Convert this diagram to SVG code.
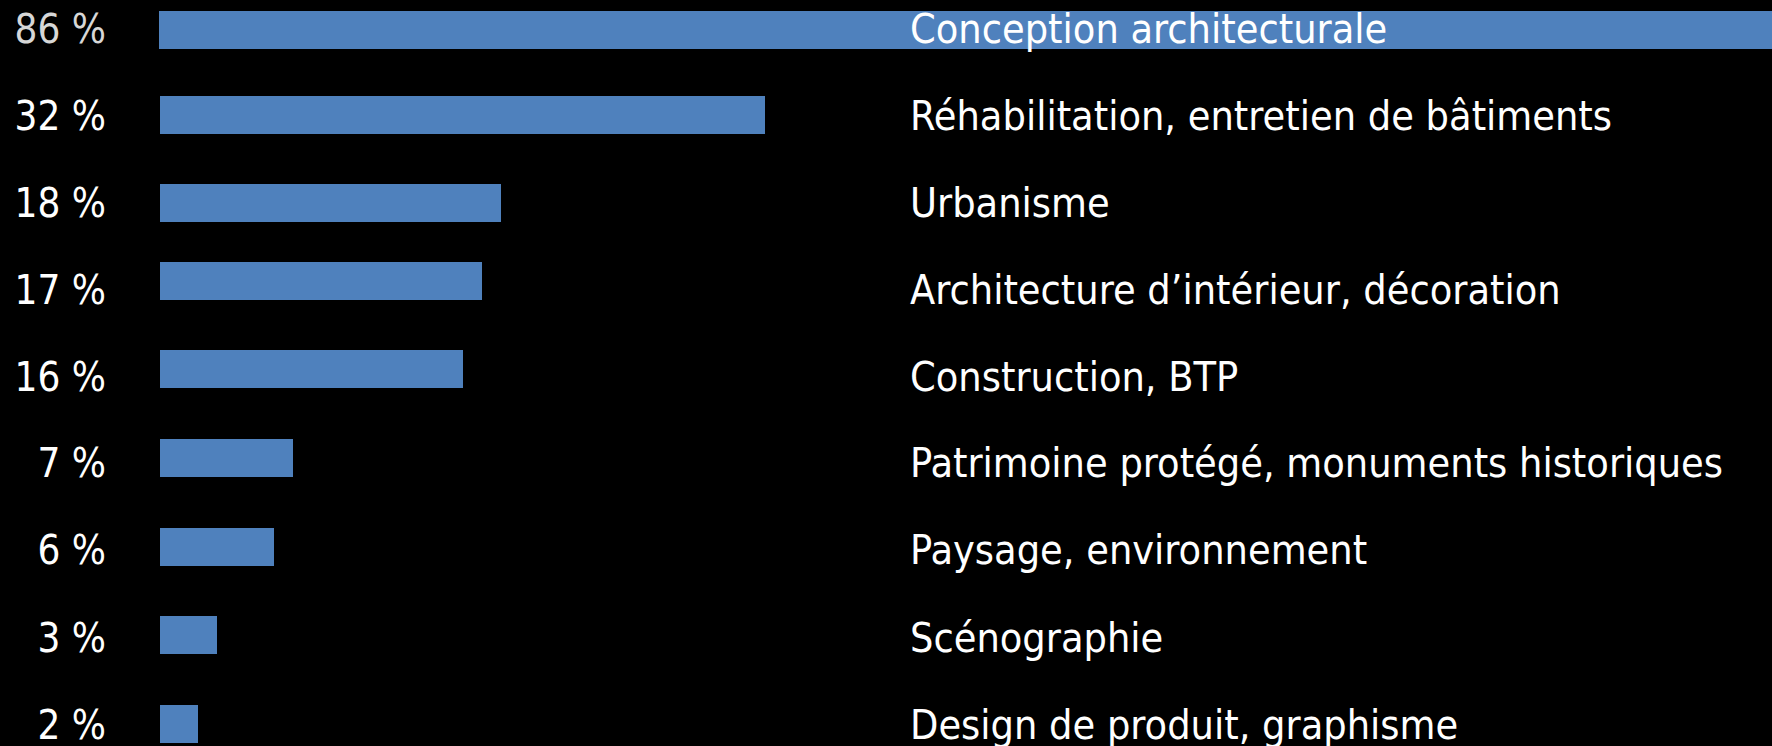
<svg xmlns="http://www.w3.org/2000/svg" width="1772" height="746" viewBox="0 0 1772 746">
<style>
.bar{fill:#4F81BD}
.lbl{font-family:"DejaVu Sans Condensed","DejaVu Sans",sans-serif;font-stretch:condensed;font-size:41px;fill:#ffffff}
.pct{text-anchor:end;font-size:40px}
</style>
<rect width="1772" height="746" fill="#000000"/>
<g id="row1"><rect class="bar" x="159" y="11" width="1613" height="38"/><text class="lbl pct" x="106" y="43" fill-opacity="0.85">86 %</text><text class="lbl" x="910" y="43">Conception architecturale</text></g>
<g id="row2"><rect class="bar" x="160" y="96" width="605" height="38"/><text class="lbl pct" x="106" y="130">32 %</text><text class="lbl" x="910" y="130">Réhabilitation, entretien de bâtiments</text></g>
<g id="row3"><rect class="bar" x="160" y="184" width="341" height="38"/><text class="lbl pct" x="106" y="217">18 %</text><text class="lbl" x="910" y="217">Urbanisme</text></g>
<g id="row4"><rect class="bar" x="160" y="262" width="322" height="38"/><text class="lbl pct" x="106" y="304">17 %</text><text class="lbl" x="910" y="304">Architecture d’intérieur, décoration</text></g>
<g id="row5"><rect class="bar" x="160" y="350" width="303" height="38"/><text class="lbl pct" x="106" y="391">16 %</text><text class="lbl" x="910" y="391">Construction, BTP</text></g>
<g id="row6"><rect class="bar" x="160" y="439" width="133" height="38"/><text class="lbl pct" x="106" y="477">7 %</text><text class="lbl" x="910" y="477">Patrimoine protégé, monuments historiques</text></g>
<g id="row7"><rect class="bar" x="160" y="528" width="114" height="38"/><text class="lbl pct" x="106" y="564">6 %</text><text class="lbl" x="910" y="564">Paysage, environnement</text></g>
<g id="row8"><rect class="bar" x="160" y="616" width="57" height="38"/><text class="lbl pct" x="106" y="652">3 %</text><text class="lbl" x="910" y="652">Scénographie</text></g>
<g id="row9"><rect class="bar" x="160" y="705" width="38" height="38"/><text class="lbl pct" x="106" y="739">2 %</text><text class="lbl" x="910" y="739">Design de produit, graphisme</text></g>
<g id="connectors"></g>
</svg>
